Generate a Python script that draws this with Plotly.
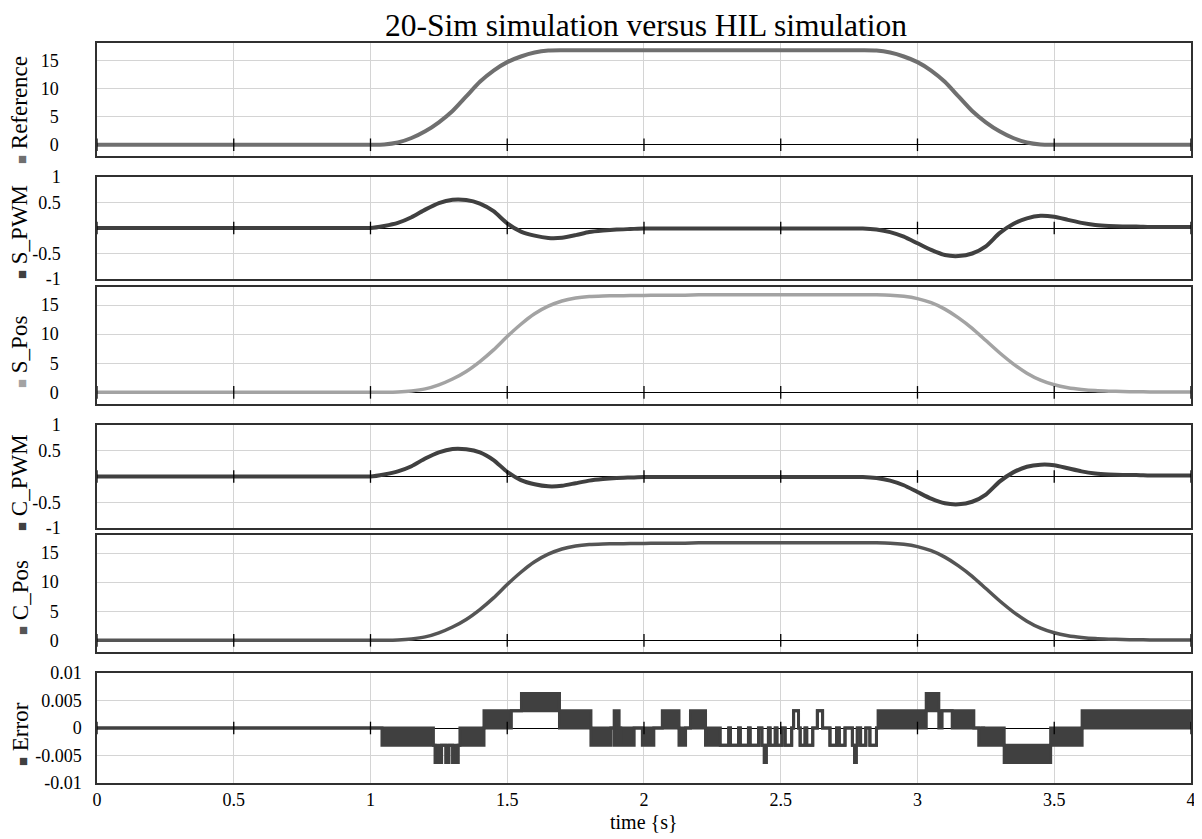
import plotly.graph_objects as go
from plotly.subplots import make_subplots

# ---------------- data ----------------
TIME = [round(0.05 * i, 2) for i in range(81)]  # 0 .. 4 s

REFERENCE = ([0.0] * 21 +
             [0.05, 0.4, 1.2, 2.4, 4.0, 6.0, 8.6, 11.2, 13.2, 14.7, 15.7, 16.4, 16.75] +
             [16.8] * 23 +
             [16.75, 16.4, 15.7, 14.7, 13.2, 11.2, 8.6, 6.0, 4.0, 2.4, 1.2, 0.4, 0.05] +
             [0.0] * 11)

S_PWM = ([0.0] * 21 +
         [0.04, 0.10, 0.21, 0.36, 0.49, 0.555, 0.55, 0.48, 0.33, 0.09, -0.07, -0.15, -0.195,
          -0.19, -0.14, -0.08, -0.05, -0.03, -0.02] +
         [-0.01] * 17 +
         [-0.03, -0.08, -0.17, -0.30, -0.43, -0.53, -0.55, -0.50, -0.36, -0.10, 0.08, 0.19,
          0.24, 0.22, 0.16, 0.10, 0.06, 0.04, 0.03, 0.03, 0.02, 0.02, 0.02, 0.02])

S_POS = ([0.0] * 21 +
         [0.02, 0.08, 0.25, 0.6, 1.3, 2.3, 3.6, 5.3, 7.3, 9.6, 11.7, 13.5, 14.8, 15.7, 16.2,
          16.45, 16.55, 16.6, 16.62, 16.65, 16.68, 16.7, 16.7] +
         [16.75] * 14 +
         [16.7, 16.5, 16.1, 15.4, 14.3, 12.8, 11.0, 8.9, 6.8, 4.9, 3.3, 2.1, 1.3, 0.8, 0.5,
          0.3, 0.2, 0.15, 0.1, 0.08, 0.06, 0.05, 0.05])

C_PWM = ([0.0] * 21 +
         [0.04, 0.10, 0.20, 0.35, 0.47, 0.535, 0.53, 0.47, 0.32, 0.09, -0.07, -0.15, -0.19,
          -0.18, -0.13, -0.08, -0.05, -0.03, -0.02] +
         [-0.01] * 17 +
         [-0.03, -0.08, -0.17, -0.30, -0.43, -0.52, -0.54, -0.49, -0.35, -0.10, 0.08, 0.19,
          0.23, 0.22, 0.16, 0.10, 0.06, 0.04, 0.03, 0.03, 0.02, 0.02, 0.02, 0.02])

C_POS = ([0.0] * 21 +
         [0.02, 0.08, 0.25, 0.6, 1.3, 2.3, 3.6, 5.3, 7.3, 9.6, 11.7, 13.5, 14.8, 15.7, 16.2,
          16.45, 16.55, 16.6, 16.62, 16.65, 16.68, 16.7, 16.7] +
         [16.75] * 14 +
         [16.7, 16.5, 16.1, 15.4, 14.3, 12.8, 11.0, 8.9, 6.8, 4.9, 3.3, 2.1, 1.3, 0.8, 0.5,
          0.3, 0.2, 0.15, 0.1, 0.08, 0.06, 0.05, 0.05])

# Error: quantised (encoder steps); each segment switches rapidly between lo and hi
ERR_QUANTUM = 0.00314
ERR_T = [0.000, 1.042, 1.230, 1.236, 1.260, 1.275, 1.287, 1.300, 1.321, 1.327, 1.415, 1.515,
         1.552, 1.691, 1.806, 1.879, 1.891, 1.909, 1.915, 1.964, 1.994, 2.036, 2.067, 2.128,
         2.152, 2.170, 2.225, 2.279, 2.310, 2.316, 2.346, 2.352, 2.382, 2.388, 2.419, 2.431,
         2.440, 2.447, 2.455, 2.461, 2.480, 2.486, 2.504, 2.516, 2.540, 2.547, 2.565, 2.571,
         2.589, 2.595, 2.617, 2.634, 2.653, 2.680, 2.704, 2.714, 2.735, 2.762, 2.770, 2.776,
         2.780, 2.792, 2.811, 2.826, 2.850, 2.856, 3.032, 3.078, 3.090, 3.127, 3.206, 3.224,
         3.236, 3.242, 3.317, 3.487, 3.602, 4.000]
ERR_LO = [0, -1, -1, -2, -1, -2, -1, -2, -1, -1, 0, 1,
          1, 0, -1, 0, -1, 0, -1, 0, -1, 0, 0, -1,
          0, 0, -1, -1, 0, -1, 0, -1, 0, -1, 0, -1,
          -2, -1, 0, -1, 0, -1, 0, -1, 0, 1, 0, -1,
          0, -1, 0, 1, 0, -1, 0, -1, 0, -1, -2, -1,
          0, -1, 0, -1, 0, 0, 1, 0, 1, 0, 0, -1,
          0, -1, -2, -1, 0]
ERR_HI = [0, 0, -1, -1, -1, -1, -1, -1, -1, 0, 1, 1,
          2, 1, 0, 0, 1, 0, 0, 0, 0, 0, 1, 0,
          0, 1, 0, -1, 0, -1, 0, -1, 0, -1, 0, -1,
          -2, -1, 0, -1, 0, -1, 0, -1, 0, 1, 0, -1,
          0, -1, 0, 1, 0, -1, 0, -1, 0, -1, -2, -1,
          0, -1, 0, -1, 0, 1, 2, 1, 1, 1, 0, 0,
          0, 0, -1, 0, 1]

X_TICKS = [0, 0.5, 1, 1.5, 2, 2.5, 3, 3.5, 4]
X_TICKTEXT = ["0", "0.5", "1", "1.5", "2", "2.5", "3", "3.5", "4"]
POS_TICKS = [0, 5, 10, 15]
PWM_TICKS = [-1, -0.5, 0.5, 1]
PWM_TICKTEXT = ["-1", "-0.5", "0.5", "1"]
ERR_TICKS = [-0.01, -0.005, 0, 0.005, 0.01]
ERR_TICKTEXT = ["-0.01", "-0.005", "0", "0.005", "0.01"]

PANEL_TITLES = ["Reference", "S_PWM", "S_Pos", "C_PWM", "C_Pos", "Error"]
PANEL_COLORS = ["#6f6f6f", "#404040", "#a3a3a3", "#404040", "#555555", "#404040"]

# ---------------- figure ----------------
FONT = "Liberation Serif"
OFF = 8  # page body margin: the figure is drawn 8px right / down on screen
W, H = 1188, 839 - OFF
# target screen pixels of the plotting block
PL, PR, PT, PB = 97, 1191, 43, 783
ML, MR, MT, MB = PL - OFF, (W + OFF) - PR, PT - OFF, (H + OFF) - PB
plot_h = PB - PT
plot_w = PR - PL
panel_px = [(43, 156), (177, 279), (287, 404), (425, 528), (535, 652), (673, 783)]
title_centers_px = [110, 232, 352, 483, 598, 734]
domains = [[(PB - b) / plot_h, (PB - t) / plot_h] for (t, b) in panel_px]
domains = [[max(0, d0), min(1, d1)] for d0, d1 in domains]

fig = make_subplots(rows=6, cols=1, shared_xaxes=True)

series = [REFERENCE, S_PWM, S_POS, C_PWM, C_POS]
widths = [4, 4, 3.5, 4, 3.5]
for i, vals in enumerate(series):
    fig.add_trace(go.Scatter(x=TIME, y=vals, mode="lines",
                             line=dict(color=PANEL_COLORS[i], width=widths[i], shape="spline",
                                       smoothing=0.6),
                             showlegend=False, hoverinfo="skip"), row=i + 1, col=1)

# error band: upper envelope then lower envelope filled to it
err_hi = [v * ERR_QUANTUM for v in ERR_HI] + [ERR_HI[-1] * ERR_QUANTUM]
err_lo = [v * ERR_QUANTUM for v in ERR_LO] + [ERR_LO[-1] * ERR_QUANTUM]
fig.add_trace(go.Scatter(x=ERR_T, y=err_hi, mode="lines",
                         line=dict(color=PANEL_COLORS[5], width=3, shape="hv"),
                         showlegend=False, hoverinfo="skip"), row=6, col=1)
fig.add_trace(go.Scatter(x=ERR_T, y=err_lo, mode="lines", fill="tonexty",
                         fillcolor=PANEL_COLORS[5],
                         line=dict(color=PANEL_COLORS[5], width=3, shape="hv"),
                         showlegend=False, hoverinfo="skip"), row=6, col=1)

# small tick crosses on the zero lines
for r in range(1, 7):
    fig.add_trace(go.Scatter(x=X_TICKS, y=[0] * len(X_TICKS), mode="markers",
                             marker=dict(symbol="line-ns", size=9,
                                         line=dict(color="#000000", width=1.3)),
                             showlegend=False, hoverinfo="skip", cliponaxis=False),
                  row=r, col=1)

axis_common = dict(showline=True, linecolor="#303030", linewidth=1.5, mirror=True,
                   showgrid=True, gridcolor="#d4d4d4", gridwidth=1, automargin=False,
                   zeroline=True, zerolinecolor="#000000", zerolinewidth=1,
                   ticklabeloverflow="allow",
                   tickfont=dict(family=FONT, size=18, color="#000000"))

for r in range(1, 7):
    xa = "xaxis" if r == 1 else f"xaxis{r}"
    fig.layout[xa].update(range=[0, 4.0001], tickvals=X_TICKS, ticktext=X_TICKTEXT,
                          showticklabels=(r == 6), ticks="", **axis_common)
    fig.layout[xa].zeroline = False

ya = {1: dict(range=[-2, 18.1], tickvals=POS_TICKS, ticklabelstandoff=33),
      2: dict(range=[-1, 1], tickvals=PWM_TICKS, ticktext=PWM_TICKTEXT, ticklabelstandoff=31),
      3: dict(range=[-2, 18.1], tickvals=POS_TICKS, ticklabelstandoff=33),
      4: dict(range=[-1, 1], tickvals=PWM_TICKS, ticktext=PWM_TICKTEXT, ticklabelstandoff=31),
      5: dict(range=[-2, 18.1], tickvals=POS_TICKS, ticklabelstandoff=33),
      6: dict(range=[-0.01, 0.01], tickvals=ERR_TICKS, ticktext=ERR_TICKTEXT,
              ticklabelstandoff=10)}
for r in range(1, 7):
    name = "yaxis" if r == 1 else f"yaxis{r}"
    fig.layout[name].update(domain=domains[r - 1], ticks="", **axis_common, **ya[r])

fig.layout.xaxis6.update(ticklabelstandoff=0)

annotations = []
for r in range(6):
    annotations.append(dict(
        xref="paper", yref="paper", x=(20 - PL) / plot_w,
        y=(PB - title_centers_px[r]) / plot_h,
        xanchor="center", yanchor="middle", textangle=-90, showarrow=False,
        text=f'<span style="color:{PANEL_COLORS[r]};font-size:15px">■</span> {PANEL_TITLES[r]}',
        font=dict(family=FONT, size=23, color="#000000")))
annotations.append(dict(
    xref="paper", yref="paper", x=(644 - PL) / plot_w, y=(PB - 822) / plot_h,
    xanchor="center", yanchor="middle", showarrow=False, text="time {s}",
    font=dict(family=FONT, size=20, color="#000000")))
annotations.append(dict(
    xref="paper", yref="paper", x=(646 - PL) / plot_w, y=(PB - 25) / plot_h,
    xanchor="center", yanchor="middle", showarrow=False,
    text="20-Sim simulation versus HIL simulation",
    font=dict(family=FONT, size=31.5, color="#000000")))

fig.update_layout(
    width=W, height=H,
    margin=dict(l=ML, r=MR, t=MT, b=MB, autoexpand=False),
    paper_bgcolor="#ffffff", plot_bgcolor="#ffffff",
    annotations=annotations,
    showlegend=False,
)

fig.write_html("out.html")
